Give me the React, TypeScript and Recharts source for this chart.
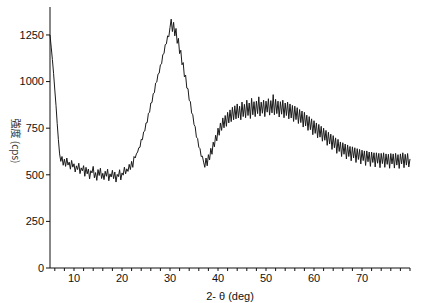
import React from 'react';
import { LineChart, Line, XAxis, YAxis } from 'recharts';

// 2-theta scan, 0.25 deg steps from 5 to 80 (one row per degree)
const twoTheta: number[] = Array.from({ length: 301 }, (_, i) => 5 + i * 0.25);
const intensity: number[] = [
  1250, 1185, 1118, 1042,
  955, 872, 776, 688,
  612, 572, 598, 551,
  584, 545, 590, 552,
  568, 530, 577, 541,
  559, 515, 548, 528,
  562, 506, 537, 521,
  549, 492, 540, 505,
  531, 478, 522, 510,
  545, 484, 512, 470,
  528, 496, 535, 480,
  508, 474, 519, 492,
  530, 468, 505, 488,
  524, 479, 515, 461,
  502, 490, 527, 472,
  510, 498, 541, 505,
  532, 518, 556, 528,
  572, 540, 598, 590,
  612, 622, 645, 648,
  690, 688, 730, 735,
  778, 780, 830, 835,
  885, 888, 935, 940,
  992, 998, 1040, 1045,
  1090, 1095, 1145, 1150,
  1198, 1202, 1245, 1240,
  1290, 1335, 1268, 1318,
  1245, 1285, 1205, 1232,
  1150, 1168, 1090, 1102,
  1025, 1035, 965, 962,
  900, 892, 832, 822,
  770, 758, 702, 695,
  648, 640, 598, 600,
  568, 540, 590, 548,
  608, 580, 642, 610,
  675, 650, 712, 682,
  750, 712, 778, 738,
  805, 752, 818, 760,
  835, 778, 848, 785,
  862, 795, 870, 800,
  880, 805, 868, 795,
  890, 812, 878, 806,
  900, 818, 885, 802,
  910, 822, 892, 812,
  895, 828, 918, 815,
  890, 830, 900, 812,
  895, 836, 908, 820,
  898, 832, 930, 822,
  905, 828, 895, 810,
  892, 825, 900, 806,
  885, 818, 890, 800,
  880, 805, 872, 786,
  868, 796, 860, 775,
  850, 780, 842, 756,
  835, 762, 820, 738,
  812, 742, 800, 715,
  790, 722, 778, 698,
  770, 702, 760, 680,
  750, 685, 738, 658,
  728, 665, 718, 636,
  710, 645, 698, 615,
  690, 625, 676, 598,
  672, 610, 665, 585,
  660, 598, 652, 575,
  650, 590, 645, 566,
  640, 582, 636, 558,
  632, 576, 628, 550,
  628, 570, 622, 545,
  622, 566, 618, 542,
  618, 562, 615, 538,
  615, 560, 618, 540,
  612, 556, 610, 535,
  614, 558, 612, 536,
  615, 552, 608, 534,
  612, 558, 618, 538,
  610, 552, 614, 542,
  585,
];
const xTicks: number[] = [6, 8, 10, 12, 14, 16, 18, 20, 22, 24, 26, 28, 30, 32, 34, 36, 38, 40, 42, 44, 46, 48, 50, 52, 54, 56, 58, 60, 62, 64, 66, 68, 70, 72, 74, 76, 78, 80];
const xLabels: number[] = [10, 20, 30, 40, 50, 60, 70];
const yTicks: number[] = [0, 250, 500, 750, 1000, 1250];

const data = twoTheta.map((t, i) => ({ t, v: intensity[i] }));

const font = { fontFamily: 'Liberation Sans, Arial, sans-serif', fontSize: 11, fill: '#111' };

const XTick = (props: any) => {
  const { x, y, payload } = props;
  if (!xLabels.includes(payload.value)) return <g />;
  return (
    <text x={x} y={y + 9} textAnchor="middle" style={font}>
      {payload.value}
    </text>
  );
};

const App = () => {
  return (
    <div style={{ position: 'absolute', left: 0, top: 0, background: '#fff' }}>
      <LineChart width={425} height={303} data={data} margin={{ top: 7, right: 15, bottom: 0, left: 0 }}>
        <XAxis
          dataKey="t"
          type="number"
          domain={[5, 80]}
          ticks={xTicks}
          interval={0}
          height={35}
          stroke="#111"
          tickSize={3}
          tick={<XTick />}
          label={{ value: '2- θ (deg)', position: 'insideBottom', offset: 3, style: font }}
        />
        <YAxis
          type="number"
          domain={[0, 1400]}
          ticks={yTicks}
          interval={0}
          width={50}
          stroke="#111"
          tickSize={4}
          tick={font}
          tickMargin={2}
          label={{
            content: () => (
              <text x={15} y={141} transform="rotate(90, 15, 141)" textAnchor="middle" dominantBaseline="middle" style={{ fontSize: 10, fill: '#333', fontFamily: 'Noto Sans CJK JP, sans-serif' }}>
                強度 (cps)
              </text>
            ),
          }}
        />
        <Line type="linear" dataKey="v" stroke="#1a1a1a" strokeWidth={1} dot={false} isAnimationActive={false} />
      </LineChart>
    </div>
  );
};

export default App;
